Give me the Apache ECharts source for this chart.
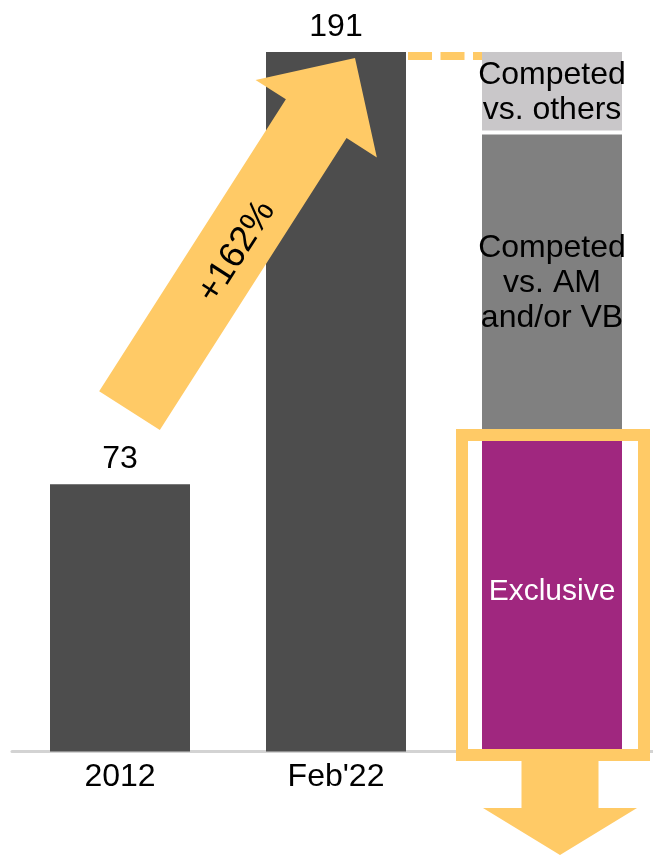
<!DOCTYPE html>
<html>
<head>
<meta charset="utf-8">
<script src="https://cdn.jsdelivr.net/npm/echarts@6/dist/echarts.min.js"></script>
<style>
  html, body { margin: 0; padding: 0; background: #fff; }
  #chart { width: 653px; height: 855px; }
</style>
</head>
<body>
<div id="chart"></div>
<script>
// Categories along the x axis (the third column is the breakdown of Feb'22)
const categories = ['2012', "Feb'22", ''];
// Totals per period
const totals = [73, 191, null];
// Breakdown of the Feb'22 total
const exclusive = [null, null, 87];
const competedAmVb = [null, null, 82];
const competedOthers = [null, null, 22];
const segmentLabels = ['Exclusive', 'Competed\nvs. AM\nand/or VB', 'Competed\nvs. others'];
const growthText = '+162%';

const FONT = "'Liberation Sans', Arial, sans-serif";
const YELLOW = '#FFCA66';
const DARK = '#4D4D4D';

const chart = echarts.init(document.getElementById('chart'), null, { renderer: 'canvas' });

const segLabel = (text, color, size) => ({
  show: true,
  position: 'inside',
  formatter: text,
  color: color,
  fontFamily: FONT,
  fontSize: size,
  lineHeight: 35,
  overflow: 'none'
});

chart.setOption({
  animation: false,
  backgroundColor: '#fff',
  grid: { left: 12, width: 648, top: 19.1, bottom: 103.5, containLabel: false, outerBoundsMode: 'none' },
  xAxis: {
    type: 'category',
    data: categories,
    offset: 1.5,
    axisLine: { show: true, lineStyle: { color: '#D3D3D3', width: 3 } },
    axisTick: { show: false },
    axisLabel: { color: '#000', fontFamily: FONT, fontSize: 32, margin: 8 },
    splitLine: { show: false }
  },
  yAxis: { type: 'value', min: 0, max: 200, show: false, splitLine: { show: false } },
  series: [
    {
      name: 'Total', type: 'bar', data: totals, barWidth: 140, barGap: '-100%',
      itemStyle: { color: DARK },
      label: { show: true, position: 'top', distance: 9, color: '#000', fontFamily: FONT, fontSize: 32 }
    },
    {
      name: 'Exclusive', type: 'bar', stack: 'mix', data: exclusive, barWidth: 140,
      itemStyle: { color: '#A0277F' },
      label: segLabel(segmentLabels[0], '#fff', 30)
    },
    {
      name: 'Competed vs. AM and/or VB', type: 'bar', stack: 'mix', data: competedAmVb, barWidth: 140,
      itemStyle: { color: '#808080' },
      label: segLabel(segmentLabels[1], '#000', 32)
    },
    {
      name: 'Competed vs. others', type: 'bar', stack: 'mix', data: competedOthers, barWidth: 140,
      itemStyle: { color: '#C9C7C9' },
      label: segLabel(segmentLabels[2], '#000', 32)
    }
  ]
});

// Annotations placed from the chart's own scales
const px = (i, v) => chart.convertToPixel({ xAxisIndex: 0, yAxisIndex: 0 }, [i, v]);
const half = 70;
const [x0, top0] = px(0, totals[0]);
const [x1, top1] = px(1, totals[1]);
const [x2, base] = px(2, 0);
const exclTop = px(2, exclusive[2])[1];
const midTop = px(2, exclusive[2] + competedAmVb[2])[1];

// Growth arrow from the 2012 bar to the Feb'22 bar
const tail = [x0 + 9.5, top0 - 73.5];
const tip = [x1 + 19, top1 + 6];
const len = Math.hypot(tip[0] - tail[0], tip[1] - tail[1]);
const d = [(tip[0] - tail[0]) / len, (tip[1] - tail[1]) / len];
const n = [-d[1], d[0]];
const shaftW = 36, headW = 72, headL = 72;
const neck = [tip[0] - d[0] * headL, tip[1] - d[1] * headL];
const P = (p, k) => [p[0] + n[0] * k, p[1] + n[1] * k];
const arrowPts = [
  P(tail, -shaftW), P(neck, -shaftW), P(neck, -headW), tip,
  P(neck, headW), P(neck, shaftW), P(tail, shaftW)
];
const labelPos = P([tail[0] + d[0] * 191.6, tail[1] + d[1] * 191.6], 4.7);
const angle = Math.atan2(-d[1], d[0]);

// Downward arrow under the highlighted segment
const ac = x2 + 8;
const frameBottomOuter = base + 9.5;
const headStart = base + 56.5;
const arrowTip = base + 103.5;
const downPts = [
  [ac - 38.5, frameBottomOuter], [ac + 38.5, frameBottomOuter], [ac + 38.5, headStart],
  [ac + 77, headStart], [ac, arrowTip], [ac - 77, headStart], [ac - 38.5, headStart]
];

chart.setOption({
  graphic: [
    // white separator between the two competed segments
    { type: 'rect', z: 50, shape: { x: x2 - half, y: midTop - 2, width: 2 * half, height: 4 }, style: { fill: '#fff' } },
    // dashed connector at the Feb'22 total
    { type: 'line', z: 50, shape: { x1: x1 + half + 2, y1: top1 + 4, x2: x2 - half, y2: top1 + 4 },
      style: { stroke: YELLOW, lineWidth: 8, lineDash: [24, 8.5] } },
    // frame around the exclusive segment
    { type: 'rect', z: 60, shape: { x: x2 + 1 - 91, y: exclTop + 2, width: 182, height: base + 3.5 - (exclTop + 2) },
      style: { fill: 'none', stroke: YELLOW, lineWidth: 12 } },
    { type: 'polygon', z: 60, shape: { points: downPts }, style: { fill: YELLOW } },
    // growth arrow and its label
    { type: 'polygon', z: 70, shape: { points: arrowPts }, style: { fill: YELLOW } },
    { type: 'text', z: 80, x: labelPos[0], y: labelPos[1], rotation: angle,
      style: { text: growthText, fill: '#000', font: '36px ' + FONT, align: 'center', verticalAlign: 'middle' } }
  ]
});
</script>
</body>
</html>
